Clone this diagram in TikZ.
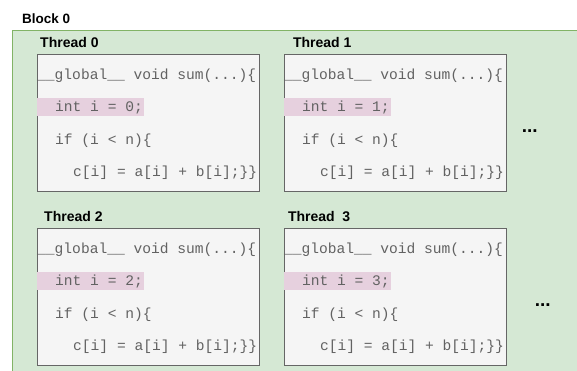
\documentclass[tikz,border=0pt]{standalone}
\usepackage{fontspec}
\setmainfont{Liberation Sans}
\setmonofont{Liberation Mono}
\usepackage{tikz}
\usepackage{xcolor}
\usetikzlibrary{positioning}
\definecolor{blockgreen}{HTML}{D5E8D4}
\definecolor{blockedge}{HTML}{82B366}
\definecolor{codegray}{HTML}{F5F5F5}
\definecolor{codeedge}{HTML}{666666}
\definecolor{codetext}{HTML}{626262}
\definecolor{idpink}{HTML}{E6D0DE}
\tikzset{block node/.style={rectangle,fill=blockgreen,draw=blockedge,line width=1.2pt,anchor=north west,minimum width=600pt,minimum height=360pt,inner sep=0pt}}
\tikzset{thread node/.style={rectangle,fill=codegray,draw=codeedge,line width=0.8pt,minimum width=222pt,minimum height=137pt,inner sep=0pt}}
\tikzset{title node/.style={inner sep=0pt,font=\fontsize{14}{16}\selectfont\bfseries}}
\tikzset{code node/.style={inner sep=0pt,anchor=base west,text=codetext,font=\fontsize{14.6}{16}\selectfont\ttfamily}}
\tikzset{id node/.style={rectangle,fill=idpink,inner sep=0pt,minimum width=107pt,minimum height=18pt}}
\tikzset{more node/.style={inner sep=0pt,font=\fontsize{19}{20}\selectfont\bfseries}}

\begin{document}
\begin{tikzpicture}[x=1pt,y=-1pt]
    \useasboundingbox (0,0) rectangle (577,371);
    \clip (0,0) rectangle (577,371);

    \node[block node] (b_{0}) at (12,30) {};
    \node[title node,font=\fontsize{13.5}{16}\selectfont\bfseries] (l_{b}) [above right = 6.5pt and 10pt of b_{0}.north west] {Block 0};

    \node[thread node] (t_{0}) [below right = 24pt and 25pt of b_{0}.north west] {};
    \node[thread node] (t_{1}) [right = 24pt of t_{0}] {};
    \node[thread node] (t_{2}) [below = 36pt of t_{0}] {};
    \node[thread node] (t_{3}) [right = 24pt of t_{2}] {};

    \node[title node] (l_{0}) [above right = 6pt and 3pt of t_{0}.north west] {Thread 0};
    \node[title node] (l_{1}) [above right = 6pt and 9pt of t_{1}.north west] {Thread 1};
    \node[title node] (l_{2}) [above right = 6pt and 7pt of t_{2}.north west] {Thread 2};
    \node[title node] (l_{3}) [above right = 6pt and 4pt of t_{3}.north west] {Thread\ \ 3};

    % thread 0
    \node[code node] (g_{0}) at ([yshift=-26pt]t_{0}.north west) {\_\_global\_\_ void sum(...)\{};
    \node[id node] (h_{0}) [below right = 44pt and 0pt of t_{0}.north west] {};
    \node[code node] (i_{0}) at ([xshift=18pt,yshift=-57.5pt]t_{0}.north west) {int i = 0;};
    \node[code node] (f_{0}) at ([xshift=18pt,yshift=-90.5pt]t_{0}.north west) {if (i < n)\{};
    \node[code node] (s_{0}) at ([xshift=36pt,yshift=-122.5pt]t_{0}.north west) {c[i] = a[i] + b[i];\}\}};

    % thread 1
    \node[code node] (g_{1}) at ([yshift=-26pt]t_{1}.north west) {\_\_global\_\_ void sum(...)\{};
    \node[id node] (h_{1}) [below right = 44pt and 0pt of t_{1}.north west] {};
    \node[code node] (i_{1}) at ([xshift=18pt,yshift=-57.5pt]t_{1}.north west) {int i = 1;};
    \node[code node] (f_{1}) at ([xshift=18pt,yshift=-90.5pt]t_{1}.north west) {if (i < n)\{};
    \node[code node] (s_{1}) at ([xshift=36pt,yshift=-122.5pt]t_{1}.north west) {c[i] = a[i] + b[i];\}\}};

    % thread 2
    \node[code node] (g_{2}) at ([yshift=-26pt]t_{2}.north west) {\_\_global\_\_ void sum(...)\{};
    \node[id node] (h_{2}) [below right = 44pt and 0pt of t_{2}.north west] {};
    \node[code node] (i_{2}) at ([xshift=18pt,yshift=-57.5pt]t_{2}.north west) {int i = 2;};
    \node[code node] (f_{2}) at ([xshift=18pt,yshift=-90.5pt]t_{2}.north west) {if (i < n)\{};
    \node[code node] (s_{2}) at ([xshift=36pt,yshift=-122.5pt]t_{2}.north west) {c[i] = a[i] + b[i];\}\}};

    % thread 3
    \node[code node] (g_{3}) at ([yshift=-26pt]t_{3}.north west) {\_\_global\_\_ void sum(...)\{};
    \node[id node] (h_{3}) [below right = 44pt and 0pt of t_{3}.north west] {};
    \node[code node] (i_{3}) at ([xshift=18pt,yshift=-57.5pt]t_{3}.north west) {int i = 3;};
    \node[code node] (f_{3}) at ([xshift=18pt,yshift=-90.5pt]t_{3}.north west) {if (i < n)\{};
    \node[code node] (s_{3}) at ([xshift=36pt,yshift=-122.5pt]t_{3}.north west) {c[i] = a[i] + b[i];\}\}};

    \node[more node] (m_{1}) [right = 15pt of t_{1}, yshift=-8pt] {...};
    \node[more node] (m_{3}) [right = 28pt of t_{3}, yshift=-8pt] {...};

\end{tikzpicture}
\end{document}
